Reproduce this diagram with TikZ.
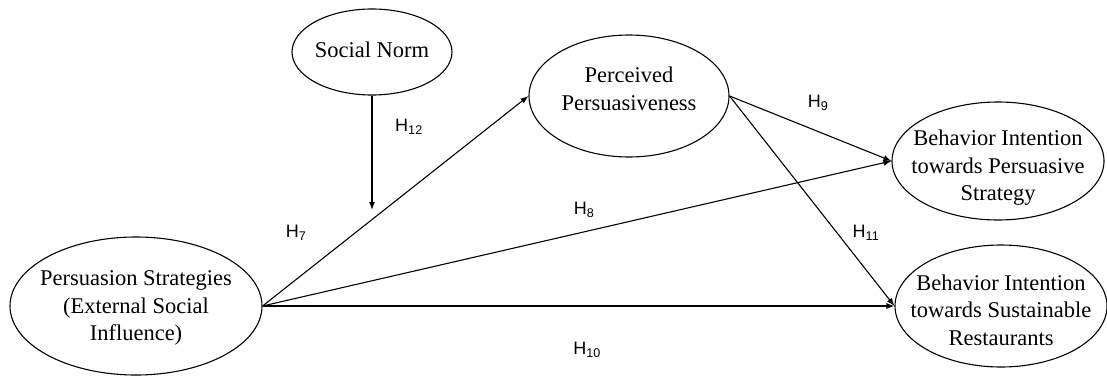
\documentclass[tikz,border=0pt]{standalone}
\usepackage{fontspec}
\setmainfont{Liberation Serif}
\newfontfamily\hfont{Liberation Sans}
\usetikzlibrary{arrows.meta,shapes.geometric}

\begin{document}
\begin{tikzpicture}[
  x=1pt, y=-1pt,
  construct/.style={ellipse, draw=black, line width=1.1pt, inner sep=0pt},
  ctext/.style={align=center, inner sep=0pt, font=\fontsize{22.5}{27.5}\selectfont},
  hyp/.style={line width=1.1pt, draw=black, -{Latex[length=8pt,width=6pt]}},
  hlabel/.style={font=\hfont\fontsize{18}{20}\selectfont, inner sep=0pt}
]
  \useasboundingbox (0,0) rectangle (1107,375);

  % Konstrukte
  \node[construct, minimum width=160pt, minimum height=86pt] (sn) at (372, 52) {};
  \node[ctext] (sn-t) at ([yshift=2pt]sn) {Social Norm};
  \node[construct, minimum width=200pt, minimum height=122pt] (pp) at (629, 96) {};
  \node[ctext] (pp-t) at ([yshift=7pt]pp) {Perceived\\Persuasiveness};
  \node[construct, minimum width=252pt, minimum height=138pt] (ps) at (136, 306) {};
  \node[ctext] (ps-t) at ([yshift=-2pt]ps) {Persuasion Strategies\\(External Social\\Influence)};
  \node[construct, minimum width=212pt, minimum height=118pt] (bip) at (998, 161) {};
  \node[ctext] (bip-t) at ([yshift=-7pt]bip) {Behavior Intention\\towards Persuasive\\Strategy};
  \node[construct, minimum width=212pt, minimum height=122pt] (bis) at (1001, 306) {};
  \node[ctext] (bis-t) at ([yshift=-4pt]bis) {Behavior Intention\\towards Sustainable\\Restaurants};

  % Moderationspunkt
  \coordinate (mod) at (372, 210);

  % Hypothesen
  \draw[hyp] (ps.east) -- (pp.west);
  \draw[hyp] (ps.east) -- (bip.west);
  \draw[hyp] (ps.east) -- (bis.west);
  \draw[hyp] (pp.east) -- (bip.west);
  \draw[hyp] (pp.east) -- (bis.west);
  \draw[hyp] (sn.south) -- (mod);

  % Beschriftungen
  \node[hlabel] (h7) at (296, 233) {H\textsubscript{7}};
  \node[hlabel] (h8) at (584, 210) {H\textsubscript{8}};
  \node[hlabel] (h9) at (818, 103) {H\textsubscript{9}};
  \node[hlabel] (h10) at (587, 350) {H\textsubscript{10}};
  \node[hlabel] (h11) at (866, 233) {H\textsubscript{11}};
  \node[hlabel] (h12) at (409, 127) {H\textsubscript{12}};

\end{tikzpicture}
\end{document}
